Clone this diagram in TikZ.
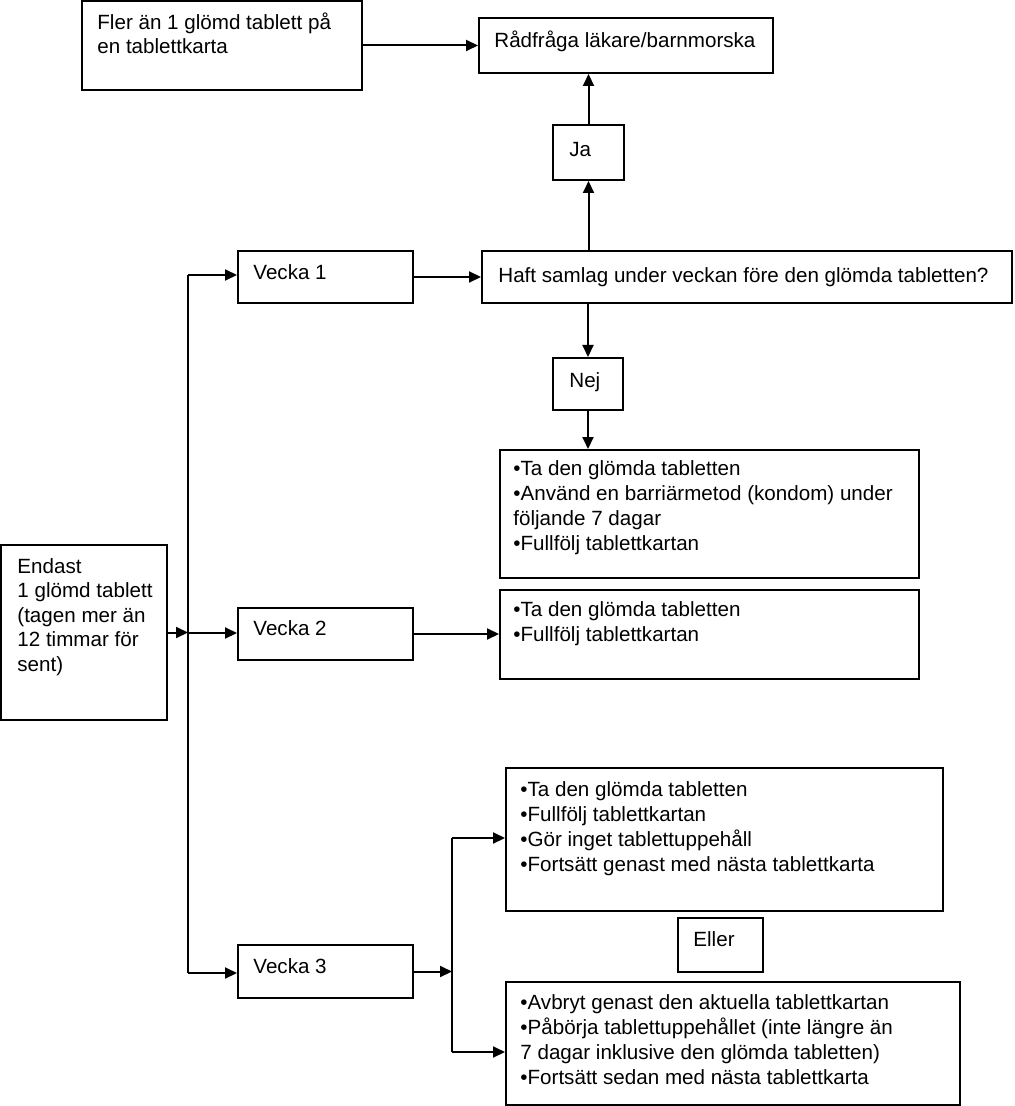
\documentclass[tikz,border=0pt]{standalone}
\usepackage{fontspec}
\setmainfont{Liberation Sans}
\usetikzlibrary{arrows.meta,fit,calc}
\begin{document}
\begin{tikzpicture}[x=0.5pt,y=-0.5pt,
  box/.style={draw,line width=1pt,inner sep=0pt},
  txt/.style={inner sep=0pt,anchor=base west,font=\fontsize{10.3}{12.5}\selectfont},
  arr/.style={line width=1pt,-{Triangle[length=6pt,width=5.5pt]}},
  ln/.style={line width=1pt}]
\useasboundingbox (0,0) rectangle (1014,1106);
% boxes
\node[box,fit={(82,1)(362,90)}] (A) {};
\node[box,fit={(479,18)(773,73)}] (B) {};
\node[box,fit={(553,125)(624,180)}] (Ja) {};
\node[box,fit={(238,251)(413,303)}] (V1) {};
\node[box,fit={(482,251)(1012,303)}] (H) {};
\node[box,fit={(553,358)(623,410)}] (Nej) {};
\node[box,fit={(500,450)(919,578)}] (C) {};
\node[box,fit={(1,545)(167,720)}] (En) {};
\node[box,fit={(238,608)(413,660)}] (V2) {};
\node[box,fit={(500,590)(919,679)}] (D) {};
\node[box,fit={(506,768)(943,911)}] (E) {};
\node[box,fit={(678,918)(763,972)}] (El) {};
\node[box,fit={(238,945)(413,998)}] (V3) {};
\node[box,fit={(506,982)(960,1105)}] (F) {};
% texts
\node[txt,font=\fontsize{10.3}{12}\selectfont] (tA) at (97,30) {\parbox[t]{200pt}{Fler än 1 glömd tablett på\\en tablettkarta}};
\node[txt] (tB) at (494,48) {Rådfråga läkare/barnmorska};
\node[txt] (tJa) at (569,157) {Ja};
\node[txt] (tV1) at (253,280) {Vecka 1};
\node[txt] (tH) at (498,283) {Haft samlag under veckan före den glömda tabletten?};
\node[txt] (tNej) at (569,387) {Nej};
\node[txt] (tC) at (513,475) {\parbox[t]{250pt}{•Ta den glömda tabletten\\•Använd en barriärmetod (kondom) under\\följande 7 dagar\\•Fullfölj tablettkartan}};
\node[txt,font=\fontsize{10.3}{12.3}\selectfont] (tEn) at (17,573) {\parbox[t]{100pt}{Endast\\1 glömd tablett\\(tagen mer än\\12 timmar för\\sent)}};
\node[txt] (tV2) at (253,635) {Vecka 2};
\node[txt] (tD) at (513,616) {\parbox[t]{250pt}{•Ta den glömda tabletten\\•Fullfölj tablettkartan}};
\node[txt] (tE) at (520,796) {\parbox[t]{250pt}{•Ta den glömda tabletten\\•Fullfölj tablettkartan\\•Gör inget tablettuppehåll\\•Fortsätt genast med nästa tablettkarta}};
\node[txt] (tEl) at (693,946) {Eller};
\node[txt] (tV3) at (253,973) {Vecka 3};
\node[txt] (tF) at (520,1009) {\parbox[t]{250pt}{•Avbryt genast den aktuella tablettkartan\\•Påbörja tablettuppehållet (inte längre än\\7 dagar inklusive den glömda tabletten)\\•Fortsätt sedan med nästa tablettkarta}};
% connectors
\draw[arr] (A.east) -- (B.west);
\draw[arr] (Ja.north) -- (Ja.north |- B.south);
\draw[arr] (Ja.south |- H.north) -- (Ja.south);
\draw[arr] (Nej.north |- H.south) -- (Nej.north);
\draw[arr] (Nej.south) -- (Nej.south |- C.north);
\draw[arr] (V1.east) -- (H.west);
\coordinate (j1) at (188,275);
\coordinate (j2) at (188,633);
\coordinate (j3) at (188,973);
\draw[ln] (j1) -- (j3);
\draw[arr] (En.east) -- (En.east -| j2);
\draw[arr] (j1) -- (j1 -| V1.west);
\draw[arr] (j2) -- (j2 -| V2.west);
\draw[arr] (j3) -- (j3 -| V3.west);
\draw[arr] (V2.east) -- (V2.east -| D.west);
\coordinate (k1) at (452,838);
\coordinate (k3) at (452,1052);
\draw[ln] (k1) -- (k3);
\draw[arr] (V3.east) -- (V3.east -| k1);
\draw[arr] (k1) -- (k1 -| E.west);
\draw[arr] (k3) -- (k3 -| F.west);
\end{tikzpicture}
\end{document}
